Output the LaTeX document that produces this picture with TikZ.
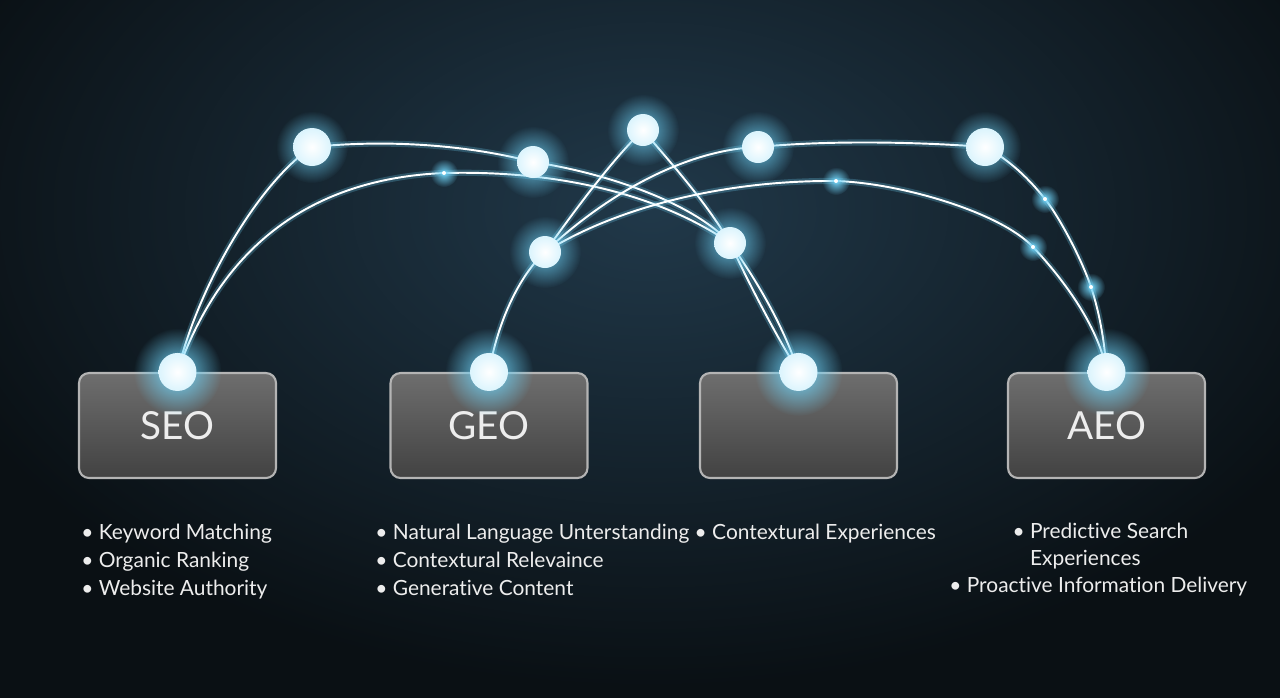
\documentclass[tikz,border=0pt]{standalone}
\usepackage{fontspec}
\setmainfont{Lato}[Ligatures={NoCommon}]
\usetikzlibrary{fadings}

\definecolor{bgdark}{HTML}{0A1014}
\definecolor{bgglow}{HTML}{21394A}
\definecolor{glowc}{HTML}{6FD3F7}
\definecolor{boxtop}{HTML}{6E6E6E}
\definecolor{boxbot}{HTML}{424242}
\definecolor{boxline}{HTML}{B4B4B4}
\definecolor{txt}{HTML}{EDEDED}

\tikzfading[name=halo, inner color=transparent!0, outer color=transparent!100]

\pgfdeclarelayer{back}
\pgfdeclarelayer{wire}
\pgfsetlayers{back,wire,main}

\tikzset{
  stage/.style={draw=boxline, line width=1.2pt, rounded corners=0.2cm,
    top color=boxtop, bottom color=boxbot, minimum width=3.94cm,
    minimum height=2.1cm, text=txt, font=\fontsize{22}{26}\selectfont},
  dot/.style={circle, minimum size=0.64cm, inner sep=0pt,
    inner color=white, outer color=glowc!25!white},
  bigdot/.style={dot, minimum size=0.76cm},
  spark/.style={circle, fill=white, minimum size=0.08cm, inner sep=0pt},
  wire/.style={white, line width=1.1pt,
    preaction={draw=glowc, line width=3.5pt, opacity=.25}},
  bullets/.style={anchor=base west, align=left, inner sep=0pt, text=txt,
    font=\fontsize{11.9}{15.9}\selectfont},
}

\begin{document}
\begin{tikzpicture}[x=0.02cm, y=-0.02cm]
  \useasboundingbox (0,0) rectangle (1280,698);
  \begin{pgfonlayer}{back}
    \fill[bgdark] (0,0) rectangle (1280,698);
    \begin{scope}
      \clip (0,0) rectangle (1280,698);
      \fill[bgglow, path fading=halo] (650,210) ellipse [x radius=760, y radius=480];
    \end{scope}
  \end{pgfonlayer}

  % the four stages
  \node[stage] (seo) at (177.5,425.5) {\raisebox{-2.5pt}{SEO}};
  \node[stage] (geo) at (489,425.5) {\raisebox{-2.5pt}{GEO}};
  \node[stage] (blank) at (798.5,425.5) {};
  \node[stage] (aeo) at (1106.5,425.5) {\raisebox{-2.5pt}{AEO}};

  % glowing dots
  \foreach \b in {seo, geo, blank, aeo}{
    \fill[glowc, path fading=halo] (\b.north) circle[radius=44];
    \node[bigdot] (\b-dot) at (\b.north) {};
  }
  \foreach \n/\x/\y/\s in {dA/312/147/bigdot, dB/533/162/dot, dC/643/130/dot,
      dD/758/147/dot, dE/985/147/bigdot, dF/545/252/dot, dG/730/243/dot}{
    \fill[glowc, path fading=halo, opacity=.85] (\x,\y) circle[radius=36];
    \node[\s] (\n) at (\x,\y) {};
  }
  \foreach \n/\x/\y in {k1/444/173, k2/836/181, k3/1045/199, k4/1033/247, k5/1091/287}{
    \fill[glowc, path fading=halo] (\x,\y) circle[radius=14];
    \node[spark] (\n) at (\x,\y) {};
  }

  % connections
  \begin{pgfonlayer}{wire}
    \draw[wire] (seo-dot.center) .. controls (200,280) and (262,180) .. (dA.center)
      .. controls (400,138) and (480,148) .. (dB.center)
      .. controls (600,172) and (690,200) .. (dG.center);
    \draw[wire] (seo-dot.center) .. controls (210,280) and (280,180) .. (k1.center)
      .. controls (560,170) and (660,195) .. (dG.center);
    \draw[wire] (dG.center) .. controls (760,285) and (785,330) .. (blank-dot.center);
    \draw[wire] (dG.center) .. controls (752,290) and (776,335) .. (blank-dot.center);
    \draw[wire] (geo-dot.center) .. controls (498,320) and (520,275) .. (dF.center)
      .. controls (575,210) and (612,160) .. (dC.center)
      .. controls (668,160) and (705,200) .. (dG.center);
    \draw[wire] (dF.center) .. controls (600,200) and (680,150) .. (dD.center)
      .. controls (830,140) and (920,142) .. (dE.center)
      .. controls (1010,160) and (1030,180) .. (k3.center)
      .. controls (1060,218) and (1082,260) .. (k5.center)
      .. controls (1100,314) and (1105,345) .. (aeo-dot.center);
    \draw[wire] (dF.center) .. controls (620,205) and (730,180) .. (k2.center)
      .. controls (900,183) and (1000,212) .. (k4.center)
      .. controls (1066,282) and (1100,330) .. (aeo-dot.center);
  \end{pgfonlayer}

  % feature lists
  \node[bullets] (seolist) at (81,595) {\textbullet\ Keyword Matching\\
    \textbullet\ Organic Ranking\\\textbullet\ Website Authority};
  \node[bullets] (geolist) at (375,595) {\textbullet\ Natural Language Unterstanding
    \textbullet\ Contextural Experiences\\\textbullet\ Contextural Relevaince\\
    \textbullet\ Generative Content};
  \node[bullets, font=\fontsize{11.9}{15.3}\selectfont] (aeolist) at (949,592)
    {\hspace*{36pt}\textbullet\ Predictive Search\\
    \hspace*{36pt}\phantom{\textbullet\ }Experiences\\
    \textbullet\ Proactive Information Delivery};
\end{tikzpicture}
\end{document}
